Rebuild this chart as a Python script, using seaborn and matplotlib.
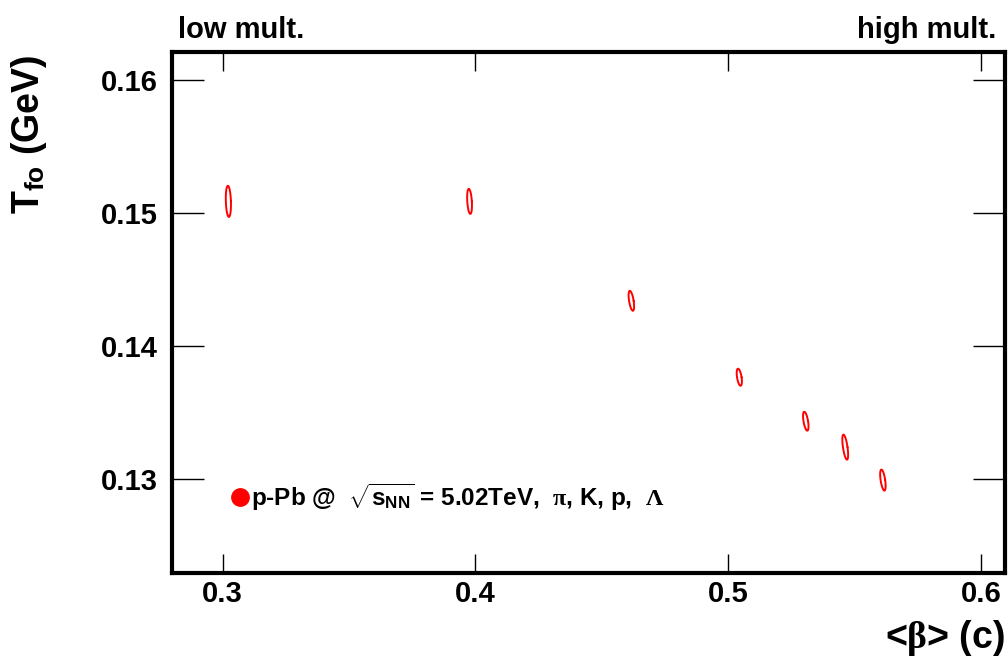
import numpy as np
import pandas as pd
import matplotlib
matplotlib.use("Agg")
import matplotlib.pyplot as plt
from matplotlib.lines import Line2D
import seaborn as sns

# ---- data ----
beta = [0.3023, 0.3977, 0.4617, 0.5044, 0.5307, 0.5463, 0.5612]
tfo = [0.15086, 0.15086, 0.14338, 0.13763, 0.13432, 0.13237, 0.12989]
beta_sigma = [0.0010, 0.0009, 0.0009, 0.0009, 0.0009, 0.0009, 0.0009]
tfo_sigma = [0.00117, 0.00094, 0.00075, 0.00064, 0.00071, 0.00094, 0.00079]
beta_tilt = [0.0002, 0.0003, 0.0006, 0.0005, 0.0006, 0.0007, 0.0006]
x_ticks = [0.3, 0.4, 0.5, 0.6]
y_ticks = [0.13, 0.14, 0.15, 0.16]
legend_label = (r"p-Pb @  $\sqrt{\mathbf{s}_{\mathbf{NN}}}$ = 5.02TeV,  "
                r"$\pi$, K, p,  $\Lambda$")

sns.set_theme(style="white")
plt.rcParams["font.family"] = ["Liberation Sans", "DejaVu Sans"]
plt.rcParams["font.weight"] = "bold"
plt.rcParams["text.color"] = "black"
plt.rcParams["mathtext.fontset"] = "custom"
plt.rcParams["mathtext.rm"] = "Liberation Serif"
plt.rcParams["mathtext.it"] = "Liberation Serif"
plt.rcParams["mathtext.bf"] = "Liberation Sans:bold"

# contour points for each correlated-error ellipse
t = np.linspace(0, 2 * np.pi, 121)
rows = []
for i, (cx, cy, ax_, ay_, bx_) in enumerate(zip(beta, tfo, beta_sigma, tfo_sigma, beta_tilt)):
    for tt in t:
        rows.append({"id": i,
                     "x": cx + ax_ * np.cos(tt) - bx_ * np.sin(tt),
                     "y": cy + ay_ * np.sin(tt)})
df = pd.DataFrame(rows)

fig = plt.figure(figsize=(10.08, 6.58), dpi=100)
ax = fig.add_axes([172 / 1008, 1 - 573 / 658, (1005 - 172) / 1008, (573 - 52) / 658])

sns.lineplot(data=df, x="x", y="y", units="id", estimator=None, sort=False,
             color="red", linewidth=1.4, ax=ax, legend=False)

ax.set_xlim(0.28, 0.6095)
ax.set_ylim(0.1229, 0.1621)
ax.set_xticks(x_ticks)
ax.set_yticks(y_ticks)
ax.set_xticklabels([f"{v:.1f}" for v in x_ticks])
ax.set_yticklabels([f"{v:.2f}" for v in y_ticks])
ax.set_xlabel("")
ax.set_ylabel("")
for s in ax.spines.values():
    s.set_linewidth(3.0)
    s.set_color("black")
ax.tick_params(axis="both", which="major", direction="in", top=True, right=True,
               bottom=True, left=True,
               labelsize=21, width=1.0, color="black", labelcolor="black")
ax.tick_params(axis="x", length=14, pad=5)
ax.tick_params(axis="y", length=23, pad=10)
for lab in ax.get_xticklabels() + ax.get_yticklabels():
    lab.set_fontweight("bold")

handle = Line2D([], [], marker="o", color="red", linestyle="", markersize=12.5)
leg = ax.legend([handle], [legend_label], loc="center left",
                bbox_to_anchor=((233 - 172) / 833, (573 - 497) / 521),
                frameon=False, handlelength=0.6, handletextpad=0.15,
                borderpad=0, borderaxespad=0,
                prop={"family": "Liberation Sans", "weight": "bold", "size": 17.5})
for txt in leg.get_texts():
    txt.set_color("black")

fig.text(178 / 1008, 1 - 38 / 658, "low mult.", ha="left", va="baseline",
         fontsize=21, fontweight="bold")
fig.text(996 / 1008, 1 - 38 / 658, "high mult.", ha="right", va="baseline",
         fontsize=21, fontweight="bold")
fig.text(1005 / 1008, 1 - 648 / 658, r"<$\beta$> (c)", ha="right", va="baseline",
         fontsize=27, fontweight="bold")
fig.text(29 / 1008, 1 - 55 / 658, r"T$_{\mathbf{fo}}$ (GeV)", ha="center", va="top",
         rotation=90, fontsize=27, fontweight="bold")

fig.savefig("out.png", dpi=100)
